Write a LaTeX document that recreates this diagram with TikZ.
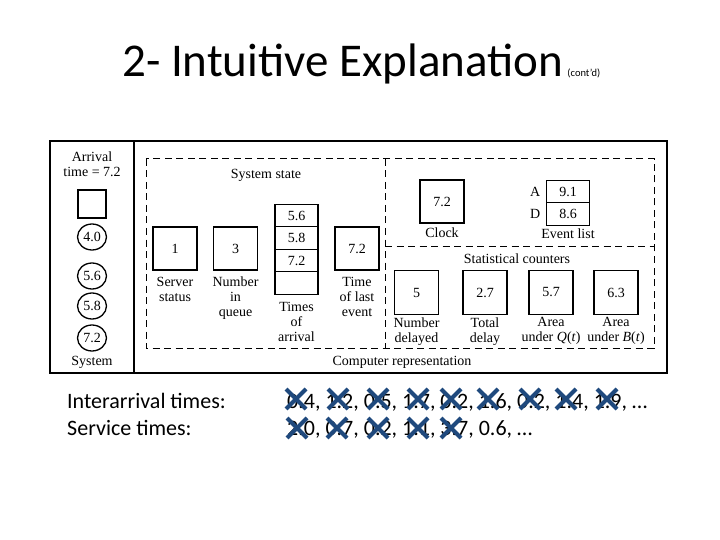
\documentclass[tikz,border=0pt]{standalone}
\usepackage{fontspec}
\setmainfont{Liberation Serif}
\newfontfamily\slidefont{Carlito}
\usetikzlibrary{positioning,shapes.geometric}
\definecolor{xblue}{RGB}{31,73,125}
\tikzset{
  figtext/.style={font=\fontsize{14}{15}\selectfont, align=center, inner sep=0pt},
  valbox/.style={draw, line width=1.5pt, minimum width=44pt, minimum height=43pt,
    inner sep=0pt, outer sep=0pt, font=\fontsize{14}{15}\selectfont},
  cellbox/.style={draw, line width=1.2pt, minimum width=43pt, minimum height=22.5pt,
    inner sep=0pt, outer sep=0pt, font=\fontsize{14}{15}\selectfont},
  custcirc/.style={draw, ellipse, line width=1.3pt, minimum width=29pt, minimum height=26pt,
    inner sep=0pt, font=\fontsize{14}{15}\selectfont},
  region/.style={dash pattern=on 7pt off 4.5pt, line width=1pt},
  frame/.style={line width=1.6pt},
  strike/.style={draw=xblue, line width=4.2pt},
  slidetext/.style={font=\slidefont\fontsize{22}{27}\selectfont, inner sep=0pt, anchor=base west}
}
\begin{document}
\begin{tikzpicture}[x=1pt, y=-1pt]
\useasboundingbox (0,0) rectangle (720,540);

% slide title
\node[font=\slidefont\fontsize{47}{50}\selectfont, inner sep=0pt, anchor=base west] (title) at (122,77) {2- Intuitive Explanation};
\node[font=\slidefont\fontsize{10.5}{12}\selectfont, inner sep=0pt, base right=4pt of title] (contd) {(cont’d)};

% frame
\draw[frame] (50,141) rectangle (667,373);
\draw[frame] (134,141) -- (134,373);
\draw[region] (146,159) rectangle (654,348);
\draw[region] (385,159) -- (385,348);
\draw[region] (385,246) -- (654,246);

% system side
\node[figtext] (arrlbl) at (92,164) {Arrival\\time = 7.2};
\node[valbox, line width=1.2pt, minimum width=28pt, minimum height=28pt] (srvslot) at (92,204) {};
\node[custcirc] (c1) at (92,237) {4.0};
\node[custcirc] (c2) at (92,276) {5.6};
\node[custcirc] (c3) at (92,306) {5.8};
\node[custcirc] (c4) at (92,338) {7.2};
\node[figtext] (syslbl) at (92,362) {System};

% system state
\node[figtext] (statelbl) at (266,175) {System state};
\node[valbox] (srv) at (175,248.5) {1};
\node[valbox] (nq) at (235.5,248.5) {3};
\node[cellbox] (arr1) at (296.5,215.5) {5.6};
\node[cellbox, below=0pt of arr1] (arr2) {5.8};
\node[cellbox, below=0pt of arr2] (arr3) {7.2};
\node[cellbox, below=0pt of arr3] (arr4) {};
\node[valbox] (tle) at (357,248.5) {7.2};
\node[figtext, below=7pt of srv] (srvlbl) {Server\\status};
\node[figtext, below=7pt of nq] (nqlbl) {Number\\in\\queue};
\node[figtext, below=8pt of arr4] (arrlbl2) {Times\\of\\arrival};
\node[figtext, below=7pt of tle] (tlelbl) {Time\\of last\\event};

% clock and event list
\node[valbox] (clock) at (442,201.5) {7.2};
\node[figtext, below=5pt of clock] (clocklbl) {Clock};
\node[cellbox] (evA) at (568,191.5) {9.1};
\node[cellbox, below=0pt of evA] (evD) {8.6};
\node[figtext, left=6pt of evA] (evAlbl) {A};
\node[figtext, left=6pt of evD] (evDlbl) {D};
\node[figtext, below=3pt of evD] (evlbl) {Event list};

% statistical counters
\node[figtext] (statlbl) at (517,259) {Statistical counters};
\node[valbox, minimum height=44pt] (ndel) at (416.5,292.5) {5};
\node[valbox, minimum height=44pt] (tdel) at (485,292.5) {2.7};
\node[valbox, minimum height=44pt] (areaq) at (551,292.5) {5.7};
\node[valbox, minimum height=44pt] (areab) at (616,292.5) {6.3};
\node[figtext, below=3pt of ndel] (ndellbl) {Number\\delayed};
\node[figtext, below=3pt of tdel] (tdellbl) {Total\\delay};
\node[figtext, below=3pt of areaq] (areaqlbl) {Area\\under \textit{Q}(\textit{t})};
\node[figtext, below=3pt of areab] (areablbl) {Area\\under \textit{B}(\textit{t})};
\node[figtext] (complbl) at (402,362) {Computer representation};

% input streams
\node[slidetext] (ialbl) at (67,408) {Interarrival times:};
\node[slidetext] (svlbl) at (67,435) {Service times:};
\node[slidetext] (iavals) at (287,408) {0.4, 1.2, 0.5, 1.7, 0.2, 1.6, 0.2, 1.4, 1.9, …};
\node[slidetext] (svvals) at (287,435) {2.0, 0.7, 0.2, 1.1, 3.7, 0.6, …};

% used values crossed out
\foreach \cx in {296,338,378,418,451,488,530,566,607}
  \draw[strike] (\cx-10,389) -- (\cx+10,409) (\cx-10,409) -- (\cx+10,389);
\foreach \cx in {297,337,378,418,451}
  \draw[strike] (\cx-10,418) -- (\cx+10,438) (\cx-10,438) -- (\cx+10,418);
\end{tikzpicture}
\end{document}
